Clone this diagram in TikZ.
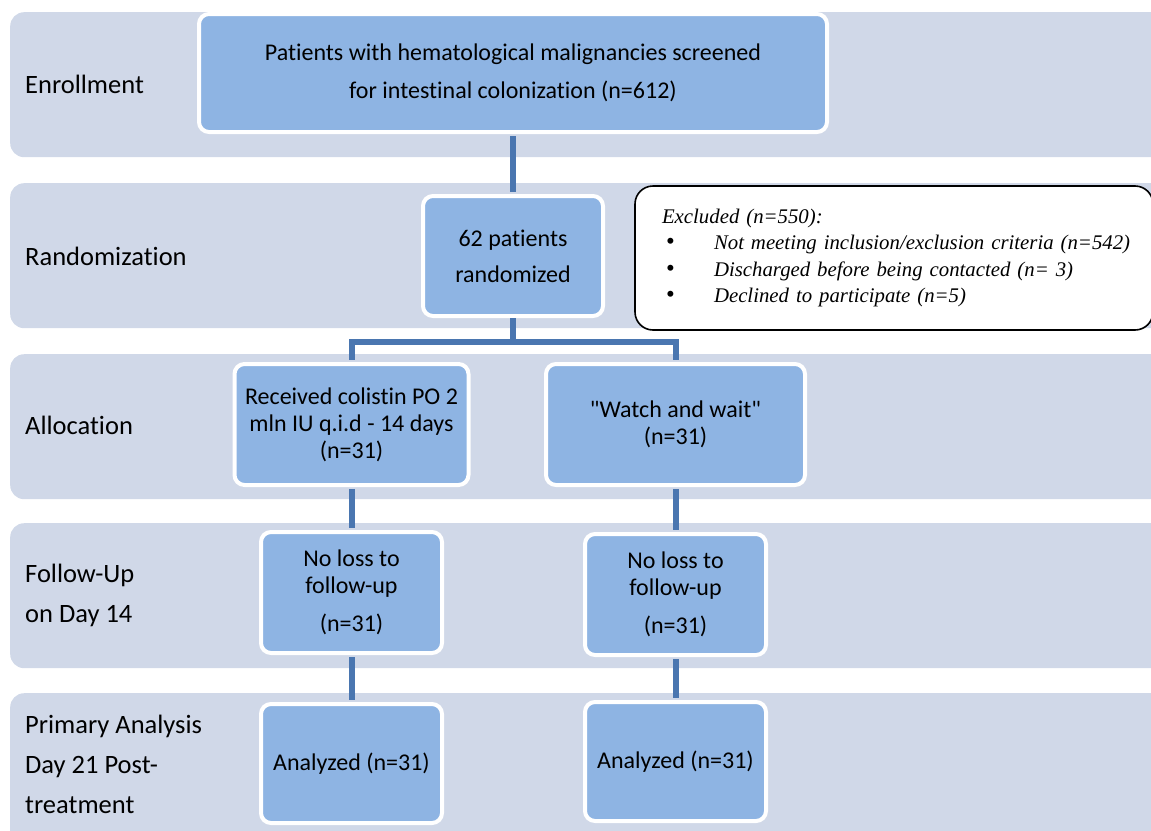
\documentclass[tikz,border=0pt]{standalone}
\usepackage{fontspec}
\setmainfont{Carlito}[Ligatures=NoCommon]
\newfontfamily\timesfont{Liberation Serif}
\usetikzlibrary{positioning}
\definecolor{bandfill}{RGB}{208,216,232}
\definecolor{boxfill}{RGB}{142,180,227}
\definecolor{linkblue}{RGB}{74,118,176}
\newcommand{\exclitem}[1]{\mbox{\hspace*{4pt}\makebox[48pt][l]{\upshape\fontsize{25}{26}\selectfont\textbullet}#1}}
\begin{document}
\begin{tikzpicture}[x=1pt,y=-1pt,
	band/.style={fill=bandfill, rounded corners=14pt, anchor=north west, minimum width=1200pt, minimum height=145pt, inner sep=0pt},
	phase/.style={anchor=west, align=left, inner sep=0pt, font=\fontsize{26.5}{40}\selectfont},
	stagebox/.style={fill=boxfill, draw=white, line width=4pt, rounded corners=10pt, align=center, inner sep=0pt, font=\fontsize{24}{27}\selectfont},
	link/.style={draw=linkblue, line width=6pt, shorten <=2pt, shorten >=2pt}]
	\useasboundingbox (0,0) rectangle (1151,830);
	\clip (0,0) rectangle (1151,830);
	
	% Faixas de fundo
	\node[band] (bandE) at (10,12) {};
	\node[band] (bandR) at (10,183) {};
	\node[band] (bandA) at (10,354) {};
	\node[band] (bandF) at (10,523) {};
	\node[band, minimum height=180pt] (bandP) at (10,693) {};
	
	% Nomes das fases
	\node[phase] (labE) at (25,84) {Enrollment};
	\node[phase] (labR) at (25,256) {Randomization};
	\node[phase] (labA) at (25,425) {Allocation};
	\node[phase] (labF) at (25,595) {Follow-Up\\on Day 14};
	\node[phase] (labP) at (25,764) {Primary Analysis\\Day 21 Post-\\treatment};
	
	% Caixas
	\node[stagebox, minimum width=628pt, minimum height=118pt, font=\fontsize{24}{38}\selectfont] (screen) at (513,73)
		{Patients with hematological malignancies screened\\for intestinal colonization (n=612)};
	\node[stagebox, minimum width=180pt, minimum height=120pt, font=\fontsize{24}{36}\selectfont] (rand) at (513,256)
		{62 patients\\randomized};
	\node[draw=black, line width=1.6pt, fill=white, rounded corners=18pt, minimum width=518pt, minimum height=144pt,
		text width=464pt, align=left, inner sep=0pt, font=\timesfont\itshape\fontsize{20.8}{26.3}\selectfont] (excl) at (894,258)
		{Excluded (n=550):\\
		\exclitem{Not meeting inclusion/exclusion criteria (n=542)}\\
		\exclitem{Discharged before being contacted (n= 3)}\\
		\exclitem{Declined to participate (n=5)}};
	\node[stagebox, minimum width=234pt, minimum height=121pt] (colis) at (351.5,424.5)
		{Received colistin PO 2\\mln IU q.i.d - 14 days\\(n=31)};
	\node[stagebox, minimum width=259pt, minimum height=121pt] (watch) at (675.5,424.5)
		{\textquotedbl Watch and wait\textquotedbl\\(n=31)};
	\node[stagebox, minimum width=181pt, minimum height=121pt] (followL) at (351.5,592.5)
		{No loss to\\follow-up\\[11pt](n=31)};
	\node[stagebox, minimum width=181pt, minimum height=121pt] (followR) at (675.5,594.5)
		{No loss to\\follow-up\\[11pt](n=31)};
	\node[stagebox, minimum width=181pt, minimum height=119pt] (anaL) at (351.5,763.5)
		{Analyzed (n=31)};
	\node[stagebox, minimum width=181pt, minimum height=119pt] (anaR) at (675.5,761.5)
		{Analyzed (n=31)};
	
	% Ligacoes
	\coordinate (split) at (513,342);
	\draw[link] (screen.south) -- (rand.north);
	\draw[link, shorten <=0pt] (rand.south) -- (split);
	\draw[link, shorten <=0pt] (split) -| (colis.north);
	\draw[link, shorten <=0pt] (split) -| (watch.north);
	\draw[link] (colis.south) -- (followL.north);
	\draw[link] (watch.south) -- (followR.north);
	\draw[link] (followL.south) -- (anaL.north);
	\draw[link] (followR.south) -- (anaR.north);
	
\end{tikzpicture}
\end{document}
